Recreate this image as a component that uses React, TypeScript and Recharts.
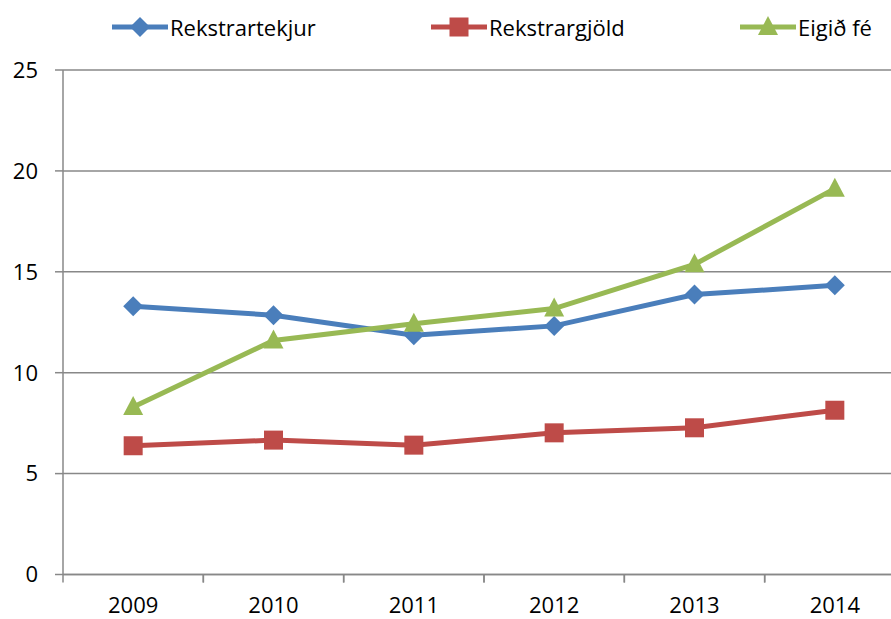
import React from "react";
import { LineChart, Line, XAxis, YAxis, CartesianGrid, Legend } from "recharts";

const years = ["2009", "2010", "2011", "2012", "2013", "2014"];
const rekstrartekjur = [13.29, 12.85, 11.86, 12.32, 13.87, 14.33];
const rekstrargjold = [6.38, 6.66, 6.41, 7.02, 7.27, 8.14];
const eigidFe = [8.3, 11.6, 12.43, 13.18, 15.37, 19.12];
const yTicks = [0, 5, 10, 15, 20, 25];

const seriesNames = ["Rekstrartekjur", "Rekstrargjöld", "Eigið fé"];
const colors = ["#4A7EBB", "#BE4B48", "#98B954"];
const keys = ["tekjur", "gjold", "fe"];

const data = years.map((y, i) => ({
  year: y,
  tekjur: rekstrartekjur[i],
  gjold: rekstrargjold[i],
  fe: eigidFe[i],
}));

const FONT = "'Open Sans', sans-serif";
const AXIS_GRAY = "#888888";
const TICK_SIZE = 8;
const TICK_MARGIN = 15;

function Marker({ kind, cx, cy, color }: { kind: number; cx: number; cy: number; color: string }) {
  if (kind === 0) {
    const r = 10;
    return <polygon points={`${cx},${cy - r} ${cx + r},${cy} ${cx},${cy + r} ${cx - r},${cy}`} fill={color} />;
  }
  if (kind === 1) {
    const s = 9.5;
    return <rect x={cx - s} y={cy - s} width={2 * s} height={2 * s} fill={color} />;
  }
  const h = 10;
  return <polygon points={`${cx},${cy - h - 1} ${cx + h},${cy + h - 2} ${cx - h},${cy + h - 2}`} fill={color} />;
}

const makeDot = (kind: number) => (props: any) => {
  const { cx, cy, key } = props;
  if (cx == null || cy == null) return <g key={key} />;
  return <Marker key={key} kind={kind} cx={cx} cy={cy} color={colors[kind]} />;
};

function XTick(props: any) {
  const { x, y, payload, width, visibleTicksCount } = props;
  const half = visibleTicksCount ? width / visibleTicksCount / 2 : 70;
  const axisY = y - TICK_SIZE - TICK_MARGIN;
  return (
    <g>
      <line x1={x - half} y1={axisY} x2={x - half} y2={axisY + TICK_SIZE} stroke={AXIS_GRAY} strokeWidth={1.5} />
      <line x1={x + half} y1={axisY} x2={x + half} y2={axisY + TICK_SIZE} stroke={AXIS_GRAY} strokeWidth={1.5} />
      <text x={x} y={y} dy="0.71em" textAnchor="middle" fill="#000" fontSize={22} fontFamily={FONT}>
        {payload.value}
      </text>
    </g>
  );
}

const legendLefts = [112, 431, 740];

function LegendContent() {
  return (
    <div style={{ position: "relative", width: 891, height: 70 }}>
      {seriesNames.map((name, i) => (
        <div
          key={name}
          style={{
            position: "absolute",
            left: legendLefts[i],
            top: 12,
            display: "flex",
            alignItems: "center",
            fontFamily: FONT,
            fontSize: 22,
            color: "#000",
            whiteSpace: "nowrap",
          }}
        >
          <svg width={56} height={30} style={{ display: "block" }}>
            <line x1={0} y1={15} x2={56} y2={15} stroke={colors[i]} strokeWidth={5} strokeLinecap="round" />
            <Marker kind={i} cx={28} cy={15} color={colors[i]} />
          </svg>
          <span style={{ marginLeft: 2 }}>{name}</span>
        </div>
      ))}
    </div>
  );
}

export default function App() {
  return (
    <div
      style={{
        position: "fixed",
        left: 0,
        top: 0,
        width: 891,
        height: 619,
        overflow: "hidden",
        background: "#fff",
      }}
    >
      <LineChart width={910} height={619} data={data} margin={{ top: 0, right: 5, left: 0, bottom: 0 }}>
        <CartesianGrid vertical={false} stroke={AXIS_GRAY} strokeWidth={1.5} />
        <XAxis
          dataKey="year"
          scale="band"
          height={44.5}
          axisLine={{ stroke: AXIS_GRAY, strokeWidth: 1.5 }}
          tickLine={false}
          tickSize={TICK_SIZE}
          tickMargin={TICK_MARGIN}
          interval={0}
          tick={<XTick />}
        />
        <YAxis
          width={63}
          domain={[0, 25]}
          ticks={yTicks}
          interval={0}
          axisLine={{ stroke: AXIS_GRAY, strokeWidth: 1.5 }}
          tickLine={{ stroke: AXIS_GRAY, strokeWidth: 1.5 }}
          tickSize={8}
          tickMargin={17}
          tick={{ fill: "#000", fontSize: 22, fontFamily: FONT }}
        />
        <Legend verticalAlign="top" content={() => <LegendContent />} wrapperStyle={{ height: 70, left: 0, top: 0 }} />
        {keys.map((k, i) => (
          <Line
            key={k}
            dataKey={k}
            name={seriesNames[i]}
            stroke={colors[i]}
            strokeWidth={5}
            dot={makeDot(i)}
            activeDot={false}
            isAnimationActive={false}
          />
        ))}
      </LineChart>
    </div>
  );
}
